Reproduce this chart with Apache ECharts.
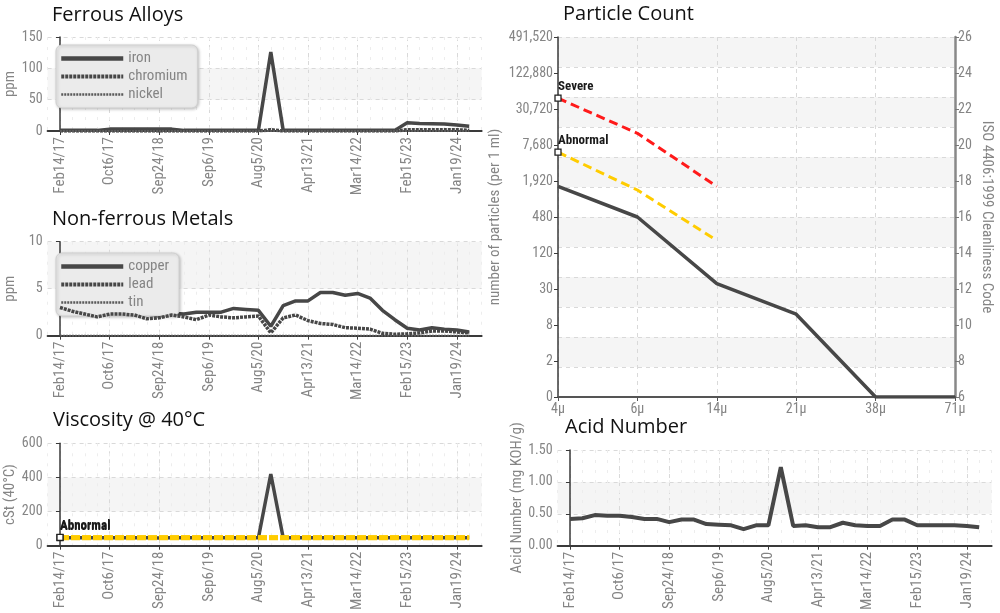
<!DOCTYPE html>
<html>
<head>
<meta charset="utf-8">
<script src="https://cdn.jsdelivr.net/npm/echarts@6/dist/echarts.min.js"></script>
<style>html,body{margin:0;padding:0;background:#fff}#c{width:1000px;height:613px}</style>
</head>
<body>
<div id="c"></div>
<script>
// ---------- data ----------
const dates = ['Feb14/17','Apr12/17','Jun9/17','Aug8/17','Oct6/17','Jan3/18','Mar28/18','Jun20/18','Sep24/18','Dec12/18','Mar5/19','Jun3/19','Sep6/19','Dec2/19','Feb26/20','May14/20','Aug5/20','Oct20/20','Dec22/20','Feb16/21','Apr13/21','Jul8/21','Oct5/21','Dec15/21','Mar14/22','Jun9/22','Sep1/22','Nov22/22','Feb15/23','May10/23','Aug2/23','Oct25/23','Jan19/24','Apr15/24'];
const shownDateIdx = [0,4,8,12,16,20,24,28,32];

const iron     = [1,1,1,1,3,3,3,3,3,3,1,1,1,1,1,1,1,126,1,1,1,1,1,1,1,1,1,1,13,12,11.5,11,9.5,7.5];
const chromium = [0,0,0,0,0,0,0,0,0,0,0,0,0,0,0,0,0,2,0,0,0,0,0,0,0,0,0,0,2,2,2,2,2,1];
const nickel   = [0,0,0,0,0,0,0,0,0,0,0,0,0,0,0,0,0,0,0,0,0,0,0,0,0,0,0,0,0,0,0,0,0,0];

const copper = [3.0,2.9,2.8,2.8,2.8,2.7,2.8,2.4,2.1,2.4,2.3,2.5,2.5,2.5,2.9,2.8,2.7,1.0,3.2,3.7,3.7,4.6,4.6,4.3,4.5,4.0,2.7,1.7,0.8,0.6,0.85,0.7,0.6,0.4];
const lead   = [3.0,2.6,2.3,2.0,2.3,2.3,2.2,1.8,1.9,2.2,2.0,1.7,2.2,2.0,1.9,2.0,2.1,0.3,1.9,2.2,1.6,1.3,1.2,0.85,0.8,0.7,0.25,0.15,0.2,0.3,0.5,0.5,0.4,0.3];
const tin    = [0,0,0,0,0,0,0,0,0,0,0,0,0,0,0,0,0,0,0,0,0,0,0,0,0,0,0,0,0,0,0,0,0,0];

const viscosity   = [46,46,47,46,46,47,46,46,45,46,47,46,46,46,47,46,46,420,46,46,47,46,46,46,46,46,47,46,46,46,46,46,46,46];
const viscAbnHigh = [49,49,49,49,49,49,49,49,49,49,49,49,49,49,49,49,49,49,49,49,49,49,49,49,49,49,49,49,49,49,49,49,49,49];
const viscAbnLow  = [47,47,47,47,47,47,47,47,47,47,47,47,47,47,47,47,47,47,47,47,47,47,47,47,47,47,47,47,47,47,47,47,47,47];

const acid = [0.42,0.43,0.48,0.47,0.47,0.45,0.42,0.42,0.37,0.41,0.41,0.34,0.33,0.32,0.26,0.32,0.32,1.23,0.31,0.32,0.29,0.29,0.36,0.32,0.31,0.31,0.41,0.41,0.32,0.32,0.32,0.32,0.31,0.29];

const pcSizes    = ['4\u03bc','6\u03bc','14\u03bc','21\u03bc','38\u03bc','71\u03bc'];
const pcActual   = [17.7,16.0,12.3,10.6,6,6];       // ISO 4406 code
const pcSevere   = [22.6,20.65,17.7];
const pcAbnormal = [19.6,17.5,14.7];
const pcCountLabels = ['0','2','8','30','120','480','1,920','7,680','30,720','122,880','491,520'];

// ---------- styles ----------
const COND = "'Roboto Condensed','Liberation Sans Narrow','DejaVu Sans Condensed','Arial Narrow',sans-serif";
const TITLEF = "'Open Sans','Noto Sans',sans-serif";
const GRIDC = '#d9d9d9';
const BAND = ['rgba(255,255,255,0)','#f5f5f5'];
const DARK = '#474747';
const LBL = '#858585';

function timeX(gridIndex){
  return [{
    type:'value', gridIndex, min:-1, max:34, position:'bottom',
    axisLine:{show:true, lineStyle:{color:'#3a3a3a', width:2}},
    axisTick:{show:true, customValues:shownDateIdx, length:4, lineStyle:{color:'#3a3a3a'}},
    axisLabel:{customValues:shownDateIdx, rotate:90, formatter:v=>dates[v]||'', color:LBL, fontFamily:COND, fontSize:15, margin:6},
    splitLine:{show:true, lineStyle:{color:GRIDC, type:[4,4]}}
  },{
    type:'value', gridIndex, min:-1, max:34, interval:1, position:'top',
    axisLine:{show:false}, axisTick:{show:false}, axisLabel:{show:false},
    splitLine:{show:true, lineStyle:{color:'#ededed', type:[3,7]}}
  }];
}
function valY(gridIndex, max, interval, name, nameGap, fmt){
  return {
    type:'value', gridIndex, min:0, max, interval, position:'left',
    name, nameLocation:'middle', nameGap,
    nameTextStyle:{color:LBL, fontFamily:COND, fontSize:15},
    axisLine:{show:true, lineStyle:{color:'#3a3a3a', width:1.5}},
    axisTick:{show:true, length:4, lineStyle:{color:'#3a3a3a'}},
    axisLabel:{color:LBL, fontFamily:COND, fontSize:14, margin:5, formatter:fmt},
    splitLine:{show:true, lineStyle:{color:GRIDC, type:[4,4]}},
    splitArea:{show:true, areaStyle:{color:BAND}}
  };
}
const pairs = arr => arr.map((v,i)=>[i,v]);
function limitData(arr, label, timeSeries){
  return arr.map((v,i)=>{
    const val = timeSeries ? [i,v] : v;
    if(i===0) return {value:val, symbol:'rect', symbolSize:6,
      label:{show:true, formatter:label, position:'top', align:'left', distance:1,
             color:'#1a1a1a', fontFamily:COND, fontSize:13, fontWeight:'bold'}};
    return {value:val, symbol:'none'};
  });
}
function legendBox(names, top){
  const widths = [4.5, 4, 2.5];
  return {
    data:names.map((n,i)=>({name:n, lineStyle:{width:widths[i]}})),
    left:56, top, orient:'vertical', itemWidth:62, itemHeight:14, itemGap:3,
    padding:[6,10,6,3], backgroundColor:'#ebebeb', borderColor:'#d0d0d0', borderWidth:1, borderRadius:6,
    shadowBlur:3, shadowColor:'rgba(0,0,0,0.22)', shadowOffsetX:1, shadowOffsetY:1,
    textStyle:{color:LBL, fontFamily:COND, fontSize:15},
    itemStyle:{opacity:0, borderWidth:0}, selectedMode:false
  };
}
const titleStyle = {fontFamily:TITLEF, fontSize:20, fontWeight:'normal', color:'#111'};

const xAxes = [].concat(timeX(0), timeX(1), timeX(2), [{
  type:'category', gridIndex:3, data:pcSizes, boundaryGap:false,
  axisLine:{show:true, lineStyle:{color:'#555', width:2}},
  axisTick:{show:true, length:4, lineStyle:{color:'#555'}},
  axisLabel:{color:LBL, fontFamily:COND, fontSize:14, margin:5},
  splitLine:{show:true, lineStyle:{color:GRIDC, type:[4,4]}}
}], timeX(4));

const yAxes = [
  valY(0,150,50,'ppm',30),
  valY(1,10,5,'ppm',30),
  valY(2,600,200,'cSt (40\u00b0C)',30),
  {type:'value', gridIndex:3, min:0, max:12, interval:1, position:'left',
   axisLine:{show:false}, axisTick:{show:false}, axisLabel:{show:false},
   splitLine:{show:true, lineStyle:{color:GRIDC, type:[4,4]}},
   splitArea:{show:true, areaStyle:{color:BAND}}},
  {type:'value', gridIndex:3, min:6, max:26, interval:2, position:'left',
   name:'number of particles (per 1 ml)', nameLocation:'middle', nameGap:55,
   nameTextStyle:{color:LBL, fontFamily:COND, fontSize:15},
   axisLine:{show:true, lineStyle:{color:'#3a3a3a', width:1.5}},
   axisTick:{show:true, length:4, lineStyle:{color:'#3a3a3a'}},
   axisLabel:{color:LBL, fontFamily:COND, fontSize:14, margin:5, formatter:v=>pcCountLabels[Math.round((v-6)/2)]},
   splitLine:{show:false}},
  {type:'value', gridIndex:3, min:6, max:26, interval:2, position:'right',
   name:'ISO 4406:1999 Cleanliness Code', nameLocation:'middle', nameGap:24, nameRotate:-90,
   nameTextStyle:{color:LBL, fontFamily:COND, fontSize:15},
   axisLine:{show:true, lineStyle:{color:'#888', width:2.5}},
   axisTick:{show:true, length:4, lineStyle:{color:'#777'}},
   axisLabel:{color:LBL, fontFamily:COND, fontSize:14, margin:3},
   splitLine:{show:false}},
  valY(4,1.5,0.5,'Acid Number (mg KOH/g)',32, v=>v.toFixed(2))
];

const lineBase = {type:'line', symbol:'none', showSymbol:false, animation:false};
const series = [
  Object.assign({}, lineBase, {name:'iron', xAxisIndex:0, yAxisIndex:0, data:pairs(iron), z:3,
    lineStyle:{color:DARK, width:3.5}, itemStyle:{color:DARK}}),
  Object.assign({}, lineBase, {name:'chromium', xAxisIndex:0, yAxisIndex:0, data:pairs(chromium), z:4,
    lineStyle:{color:DARK, width:3.5, type:[3,1]}, itemStyle:{color:DARK}}),
  Object.assign({}, lineBase, {name:'nickel', xAxisIndex:0, yAxisIndex:0, data:pairs(nickel), z:4,
    lineStyle:{color:'#5a5a5a', width:2, type:[2,1]}, itemStyle:{color:'#5a5a5a'}}),

  Object.assign({}, lineBase, {name:'copper', xAxisIndex:2, yAxisIndex:1, data:pairs(copper), z:3,
    lineStyle:{color:DARK, width:3.5}, itemStyle:{color:DARK}}),
  Object.assign({}, lineBase, {name:'lead', xAxisIndex:2, yAxisIndex:1, data:pairs(lead), z:4,
    lineStyle:{color:DARK, width:3.5, type:[3,1]}, itemStyle:{color:DARK}}),
  Object.assign({}, lineBase, {name:'tin', xAxisIndex:2, yAxisIndex:1, data:pairs(tin), z:4,
    lineStyle:{color:'#5a5a5a', width:2, type:[2,1]}, itemStyle:{color:'#5a5a5a'}}),

  Object.assign({}, lineBase, {name:'viscosity', xAxisIndex:4, yAxisIndex:2, data:pairs(viscosity), z:3,
    lineStyle:{color:DARK, width:3.5}, itemStyle:{color:DARK}}),
  Object.assign({}, lineBase, {name:'visc abnormal low', xAxisIndex:4, yAxisIndex:2, symbol:'rect', showSymbol:true,
    data:limitData(viscAbnLow,'Abnormal',true), z:5,
    lineStyle:{color:'#ffcc00', width:5, type:[9,2]}, itemStyle:{color:'#fff', borderColor:'#222', borderWidth:1.3}}),
  Object.assign({}, lineBase, {name:'visc abnormal high', xAxisIndex:4, yAxisIndex:2, symbol:'rect', showSymbol:true,
    data:limitData(viscAbnHigh,'Abnormal',true), z:5,
    lineStyle:{color:'#ffcc00', width:4, type:[9,2]}, itemStyle:{color:'#fff', borderColor:'#222', borderWidth:1.3}}),

  Object.assign({}, lineBase, {name:'particles', xAxisIndex:6, yAxisIndex:4, data:pcActual, z:3,
    lineStyle:{color:DARK, width:3.5}, itemStyle:{color:DARK}}),
  Object.assign({}, lineBase, {name:'Severe', xAxisIndex:6, yAxisIndex:4, symbol:'rect', showSymbol:true,
    data:limitData(pcSevere,'Severe',false), z:5,
    lineStyle:{color:'#ff1a1a', width:3, type:[9,5]}, itemStyle:{color:'#fff', borderColor:'#222', borderWidth:1.3}}),
  Object.assign({}, lineBase, {name:'Abnormal', xAxisIndex:6, yAxisIndex:4, symbol:'rect', showSymbol:true,
    data:limitData(pcAbnormal,'Abnormal',false), z:5,
    lineStyle:{color:'#ffcc00', width:3, type:[9,5]}, itemStyle:{color:'#fff', borderColor:'#222', borderWidth:1.3}}),

  Object.assign({}, lineBase, {name:'acid', xAxisIndex:7, yAxisIndex:6, data:pairs(acid), z:3,
    lineStyle:{color:DARK, width:4}, itemStyle:{color:DARK}})
];

const option = {
  backgroundColor:'#fff',
  animation:false,
  title:[
    {text:'Ferrous Alloys', left:47, top:0, textStyle:titleStyle},
    {text:'Non-ferrous Metals', left:47, top:204, textStyle:titleStyle},
    {text:'Viscosity @ 40\u00b0C', left:48, top:405, textStyle:titleStyle},
    {text:'Particle Count', left:558, top:-1, textStyle:titleStyle},
    {text:'Acid Number', left:560, top:412, textStyle:titleStyle}
  ],
  legend:[legendBox(['iron','chromium','nickel'],45), legendBox(['copper','lead','tin'],253)],
  grid:[
    {left:47.6, top:37, width:434, height:94},
    {left:47.6, top:241.7, width:434, height:94},
    {left:47.6, top:443.3, width:434, height:102.4},
    {left:558, top:37, width:397, height:360},
    {left:557.6, top:450, width:434, height:96}
  ],
  xAxis:xAxes,
  yAxis:yAxes,
  series
};
const chart = echarts.init(document.getElementById('c'), null, {renderer:'canvas'});
chart.setOption(option);
</script>
</body>
</html>
